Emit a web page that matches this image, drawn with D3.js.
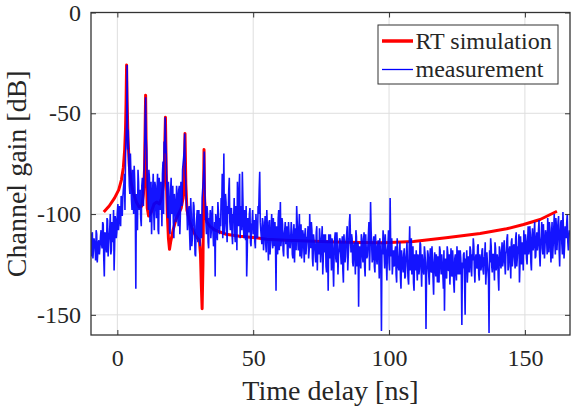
<!DOCTYPE html>
<html>
<head>
<meta charset="utf-8">
<script src="https://cdn.jsdelivr.net/npm/d3@7"></script>
<style>
  html, body { margin: 0; padding: 0; background: #fff; }
  svg { display: block; }
  text { font-family: "Liberation Serif", "Times New Roman", serif; fill: #262626; }
</style>
</head>
<body>
<svg id="chart" width="571" height="407"></svg>
<script>
// ---- Data ----
const xTicks = [0, 50, 100, 150];
const yTicks = [0, -50, -100, -150];
const seriesNames = ["RT simulation", "measurement"];

// RT simulation (time in ns, gain in dB)
const rtTime = [-5,-3,-1,0.5,1.5,2.2,2.7,3.0,3.2,3.4,3.6,3.9,4.4,5.0,6.0,7.0,8.0,9.0,9.6,10.0,
  10.4,10.7,11.0,11.5,12.5,13.5,14.5,15.5,16.3,16.9,17.3,17.7,18.0,18.4,18.8,19.2,19.6,20.5,21.5,22.5,
  23.5,24.2,24.6,24.9,25.2,25.6,26.5,27.5,28.5,29.5,30.2,30.6,30.9,31.2,31.5,31.7,31.9,32.1,32.4,33,
  34,36,40,45,50,55,62,70,80,90,98,109,121,133.5,143.3,149.5,155.6,161.8];
const rtGain = [-99,-96,-92,-88,-83,-77,-68,-58,-45,-26,-44,-62,-76,-84,-90,-94,-96.5,-96,-90,-78,
  -41,-80,-97,-101,-99,-95,-94,-95,-92,-86,-75,-52,-80,-100,-112,-117.5,-114,-108,-103,-100,
  -97,-92,-84,-60,-85,-98,-103,-107,-110,-112,-113,-120,-135,-147,-125,-95,-68,-92,-101,-104,
  -106,-108,-110,-111,-111.6,-112.5,-113,-113.4,-113.8,-114.1,-114.2,-113.6,-111.8,-109.6,-107.3,-105.2,-102.7,-98.6];

// Measurement: samples every 0.4 ns from -10 ns (measGain)
// and the in-between samples every 0.4 ns from -9.8 ns (measGainMid)
const measStart = -10;
const measStep = 0.4;
const measGain = [
  -112,-121,-109,-118,-114,-123,-110,-119,-113,-116,
  -108,-117,-105,-131,-110,-119,-103,-115,-107,-120,
  -104,-114,-128,-101,-112,-99,-108,-96,-106,-94,
  -92,-85,-98,-62,-26,-58,-86,-70,-93,-78,
  -100,-84,-137,-104,-78,-98,-88,-106,-82,-96,
  -72,-42,-68,-90,-78,-104,-84,-96,-80,-108,
  -86,-102,-80,-110,-92,-84,-106,-74,-64,-52,
  -70,-96,-84,-108,-88,-100,-86,-112,-94,-104,
  -90,-106,-86,-100,-92,-78,-72,-60,-84,-98,
  -104,-96,-118,-100,-112,-94,-108,-121,-102,-114,
  -98,-116,-104,-92,-84,-69,-96,-110,-100,-117,
  -104,-112,-100,-109,-115,-131,-102,-113,-99,-110,
  -106,-98,-112,-70,-104,-94,-114,-100,-82,-108,
  -97,-115,-103,-110,-96,-118,-104,-88,-112,-100,
  -79,-106,-98,-113,-131,-102,-109,-97,-116,-104,
  -110,-103,-117,-106,-112,-100,-79,-108,-115,-104,
  -112,-101,-119,-106,-123,-103,-114,-100,-117,-108,
  -104,-138,-110,-102,-118,-94,-112,-105,-121,-108,
  -115,-106,-122,-109,-117,-104,-120,-111,-124,-107,
  -96,-113,-108,-121,-105,-118,-110,-124,-107,-116,
  -111,-122,-100,-117,-108,-126,-113,-120,-109,-128,
  -115,-107,-124,-112,-130,-110,-119,-126,-113,-138,
  -117,-110,-128,-114,-136,-112,-122,-109,-130,-118,
  -113,-125,-111,-134,-116,-121,-110,-128,-115,-100,
  -119,-112,-126,-114,-130,-111,-123,-146,-116,-127,
  -112,-124,-109,-131,-117,-121,-110,-128,-94,-115,
  -122,-111,-129,-116,-125,-113,-132,-118,-158,-120,
  -112,-127,-117,-133,-115,-124,-92,-121,-130,-118,
  -125,-116,-134,-120,-128,-114,-137,-122,-129,-117,
  -131,-119,-126,-135,-106,-123,-130,-116,-138,-124,
  -118,-133,-121,-127,-115,-136,-124,-130,-119,-157,
  -126,-120,-135,-117,-129,-123,-140,-119,-131,-125,
  -121,-134,-118,-130,-125,-137,-148,-122,-132,-119,
  -128,-135,-117,-131,-124,-139,-120,-133,-126,-118,
  -130,-122,-155,-127,-119,-150,-125,-134,-121,-129,
  -118,-131,-123,-116,-134,-120,-127,-115,-133,-122,
  -126,-117,-130,-121,-135,-119,-128,-159,-124,-116,
  -129,-120,-133,-117,-126,-122,-138,-118,-127,-114,
  -124,-113,-130,-118,-110,-126,-116,-132,-112,-121,
  -115,-127,-109,-122,-117,-134,-111,-125,-119,-108,
  -120,-113,-125,-106,-118,-110,-128,-107,-116,-104,
  -121,-109,-115,-103,-126,-111,-117,-105,-122,-108,
  -113,-102,-119,-107,-124,-104,-116,-100,-120,-106,
  -111,-101,-126,-104,-115,-99,-122,-106,-112,-100,
  -118,-108
];
const measGainMid = [
  -118,-110,-122,-112,-116,-108,-124,-114,-120,-111,
  -115,-104,-122,-109,-116,-102,-121,-111,-100,-118,
  -110,-98,-116,-103,-109,-95,-104,-100,-91,-101,
  -88,-80,-72,-55,-68,-75,-90,-80,-98,-86,
  -76,-96,-90,-108,-84,-94,-102,-86,-92,-80,
  -55,-62,-86,-98,-82,-92,-110,-88,-100,-84,
  -96,-88,-108,-82,-98,-90,-80,-100,-70,-64,
  -86,-102,-92,-110,-82,-96,-104,-90,-98,-86,
  -100,-88,-110,-84,-96,-75,-68,-80,-94,-108,
  -98,-110,-92,-116,-104,-96,-120,-106,-98,-110,
  -108,-100,-112,-88,-78,-88,-104,-96,-114,-102,
  -98,-108,-96,-116,-104,-100,-110,-94,-106,-102,
  -92,-80,-100,-110,-90,-106,-96,-88,-104,-98,
  -110,-100,-92,-114,-98,-84,-106,-80,-96,-108,
  -92,-112,-104,-96,-120,-108,-100,-114,-106,-98,
  -108,-114,-100,-111,-96,-88,-104,-112,-102,-118,
  -106,-115,-98,-112,-104,-120,-108,-113,-102,-116,
  -114,-106,-120,-98,-108,-116,-102,-118,-110,-104,
  -110,-120,-104,-116,-112,-108,-122,-105,-114,-118,
  -104,-118,-100,-112,-122,-108,-116,-110,-120,-112,
  -106,-118,-112,-104,-122,-110,-116,-124,-106,-114,
  -120,-112,-118,-106,-122,-116,-110,-129,-118,-110,
  -122,-116,-112,-126,-118,-109,-124,-116,-120,-112,
  -120,-115,-128,-110,-124,-113,-106,-120,-104,-112,
  -110,-124,-116,-120,-108,-126,-114,-118,-122,-110,
  -120,-114,-126,-110,-122,-116,-104,-118,-108,-124,
  -114,-126,-110,-122,-116,-120,-112,-126,-114,-108,
  -120,-110,-124,-118,-108,-128,-116,-112,-124,-126,
  -118,-130,-112,-126,-122,-132,-118,-126,-120,-132,
  -122,-114,-132,-118,-128,-112,-124,-134,-120,-128,
  -126,-120,-130,-114,-126,-120,-128,-116,-124,-130,
  -118,-130,-122,-128,-116,-132,-124,-126,-120,-134,
  -128,-116,-126,-120,-130,-118,-126,-130,-116,-128,
  -120,-126,-130,-118,-134,-122,-128,-116,-130,-124,
  -118,-130,-124,-120,-134,-122,-118,-128,-126,-116,
  -126,-120,-112,-128,-122,-126,-116,-130,-120,-128,
  -118,-128,-122,-114,-128,-124,-132,-118,-112,-126,
  -120,-126,-114,-128,-120,-132,-116,-124,-120,-126,
  -116,-124,-120,-112,-128,-118,-122,-114,-126,-116,
  -122,-112,-126,-116,-110,-124,-118,-114,-128,-116,
  -110,-122,-114,-120,-106,-124,-112,-118,-110,-122,
  -112,-118,-108,-120,-114,-104,-120,-112,-116,-110,
  -120,-110,-104,-116,-110,-122,-108,-114,-102,-118,
  -104,-118,-110,-103,-120,-108,-116,-110,-104,-114,
  -112
];

// ---- Chart ----
const svg = d3.select("#chart");
const L = 91, R = 570, T = 12.5, B = 335;
const x = d3.scaleLinear().domain([-9.7, 166.6]).range([L, R]);
const y = d3.scaleLinear().domain([-160, 0]).range([B, T]);
const axisColor = "#333";

svg.append("defs").append("clipPath").attr("id", "clip")
  .append("rect").attr("x", L).attr("y", T).attr("width", R - L).attr("height", B - T);

// grid
const grid = svg.append("g");
grid.selectAll("line.gx").data(xTicks).join("line")
  .attr("x1", d => x(d)).attr("x2", d => x(d)).attr("y1", T).attr("y2", B)
  .attr("stroke", "#dedede").attr("stroke-width", 1);
grid.selectAll("line.gy").data(yTicks).join("line")
  .attr("y1", d => y(d)).attr("y2", d => y(d)).attr("x1", L).attr("x2", R)
  .attr("stroke", "#dedede").attr("stroke-width", 1);

const plot = svg.append("g").attr("clip-path", "url(#clip)");

const rtData = rtTime.map((t, i) => [t, rtGain[i]]);
const measData = [];
measGain.forEach((g, i) => {
  measData.push([measStart + i * measStep, g]);
  if (i < measGainMid.length) measData.push([measStart + (i + 0.5) * measStep, measGainMid[i]]);
});
const line = d3.line().x(d => x(d[0])).y(d => y(d[1]));

plot.append("path").datum(rtData).attr("d", line)
  .attr("fill", "none").attr("stroke", "#ff0000").attr("stroke-width", 3)
  .attr("stroke-linejoin", "round");
plot.append("path").datum(measData).attr("d", line)
  .attr("fill", "none").attr("stroke", "#0000ff").attr("stroke-width", 1.6)
  .attr("stroke-linejoin", "bevel").attr("stroke-opacity", 0.92);

// axes (inward ticks, mirrored)
const tickLen = 5;
const xAxB = d3.axisBottom(x).tickValues(xTicks).tickSize(-tickLen).tickPadding(14).tickFormat(d3.format("d"));
const xAxT = d3.axisTop(x).tickValues(xTicks).tickSize(-tickLen).tickFormat("");
const yAxL = d3.axisLeft(y).tickValues(yTicks).tickSize(-tickLen).tickPadding(10).tickFormat(d => d === 0 ? "0" : "-" + Math.abs(d));
const yAxR = d3.axisRight(y).tickValues(yTicks).tickSize(-tickLen).tickFormat("");

function style(g) {
  g.attr("font-family", null).attr("font-size", null);
  g.select(".domain").remove();
  g.selectAll(".tick line").attr("stroke", axisColor);
  g.selectAll(".tick text").attr("fill", "#262626")
    .style("font-family", "'Liberation Serif', serif").style("font-size", "24px");
}
svg.append("g").attr("transform", `translate(0,${B})`).call(xAxB).call(style);
svg.append("g").attr("transform", `translate(0,${T})`).call(xAxT).call(style);
svg.append("g").attr("transform", `translate(${L},0)`).call(yAxL).call(style);
svg.append("g").attr("transform", `translate(${R},0)`).call(yAxR).call(style);

// frame
svg.append("rect").attr("x", L).attr("y", T).attr("width", R - L).attr("height", B - T)
  .attr("fill", "none").attr("stroke", axisColor).attr("stroke-width", 1.3);

// titles
svg.append("text").attr("x", (L + R) / 2).attr("y", 400).attr("text-anchor", "middle")
  .style("font-size", "28px").text("Time delay [ns]");
svg.append("text").attr("transform", `translate(26,${(T + B) / 2}) rotate(-90)`)
  .attr("text-anchor", "middle").style("font-size", "28px").text("Channel gain [dB]");

// legend
const lg = svg.append("g");
lg.append("rect").attr("x", 378).attr("y", 25).attr("width", 180).attr("height", 59)
  .attr("fill", "#fff").attr("stroke", axisColor).attr("stroke-width", 1);
const legColors = ["#ff0000", "#0000ff"];
const legWidths = [3.5, 1.3];
seriesNames.forEach((name, i) => {
  const ly = 41 + i * 28.5;
  lg.append("line").attr("x1", 382).attr("x2", 413).attr("y1", ly).attr("y2", ly)
    .attr("stroke", legColors[i]).attr("stroke-width", legWidths[i]);
  lg.append("text").attr("x", 415.5).attr("y", ly + 7.5).style("font-size", "24px").text(name);
});
</script>
</body>
</html>
